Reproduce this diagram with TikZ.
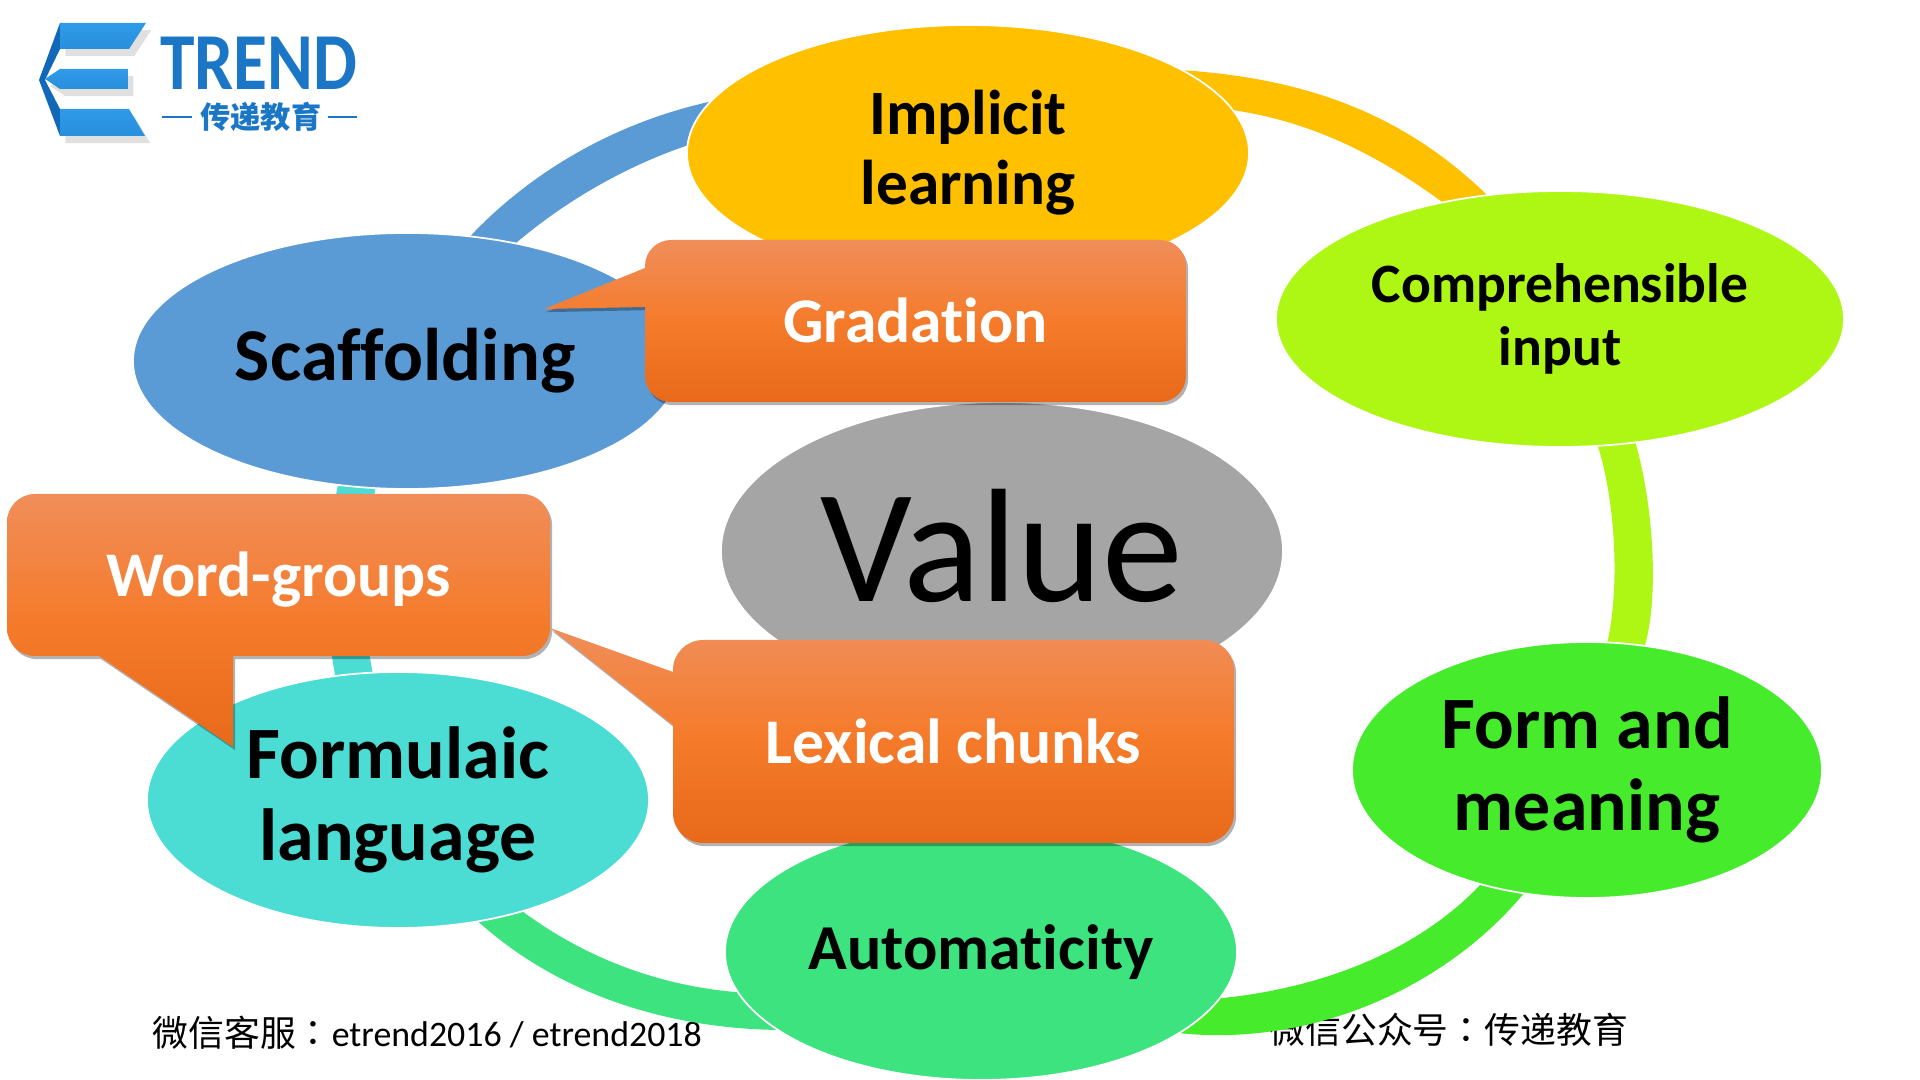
\documentclass[tikz,border=0pt]{standalone}
\usepackage{fontspec}
\setmainfont{Carlito}[Ligatures=NoCommon]
\newfontfamily\cjk{Noto Sans CJK SC}
\newfontfamily\cjktc{Noto Sans CJK TC}
\usetikzlibrary{calc,shapes.geometric,shadows}
\newcommand{\figuresize}{0.01cm}
\newcommand{\makecallout}[8]{
	\path[calloutfill] (#2,#3) [rounded corners=#8*\figuresize] rectangle (#4,#5) [sharp corners] #6;
	\node[callouttext] (#1) at ($(#2,#3)!0.5!(#4,#5)$) {#7};
}
\tikzset{
	ringnode/.style n args={3}{ellipse, draw=white, line width=0.5pt, inner sep=0pt, align=center, font=\bfseries\fontsize{#2}{#3}\selectfont, minimum height=256*\figuresize, minimum width=#1*\figuresize},
	calloutfill/.style={top color=orangetop, bottom color=orangebottom, middle color=orangemid, drop shadow={shadow xshift=0.6pt, shadow yshift=-0.9pt, opacity=0.3, fill=black}},
	callouttext/.style={text=white, text height=12.4pt, text depth=0pt, font=\bfseries\fontsize{18.1}{18.1}\selectfont},
	logoblue/.style={top color=logolight, bottom color=logolight!75!logodark, drop shadow={shadow xshift=1.5pt, shadow yshift=-2pt, opacity=0.12, fill=black}},
	logoside/.style={fill=logodark},
	logotext/.style={text=logodark!70!logolight, inner sep=0pt},
}
\definecolor{orangetop}{HTML}{F08E5A}
\definecolor{orangemid}{HTML}{F57B2B}
\definecolor{orangebottom}{HTML}{E8691A}
\definecolor{logolight}{HTML}{2F9BE8}
\definecolor{logodark}{HTML}{1268B8}
\definecolor{implicitcol}{HTML}{FFC000}
\definecolor{inputcol}{HTML}{AEF614}
\definecolor{formcol}{HTML}{46EC2B}
\definecolor{autocol}{HTML}{3CE37F}
\definecolor{formulaiccol}{HTML}{4BDCD3}
\definecolor{scaffoldcol}{HTML}{5B9BD5}
\definecolor{valuecol}{HTML}{A5A5A5}
\begin{document}
\begin{tikzpicture}[x=\figuresize,y=-\figuresize]
	\useasboundingbox (0,0) rectangle (1920,1080);

	% logo
	\fill[logoside] (39,80) -- (60,23) -- (60,49) -- (45,80) -- (60,109) -- (60,136) -- cycle;
	\path[logoblue] (60,23) -- (146,23) -- (129,49) -- (60,49) -- cycle;
	\path[logoblue] (45,79) -- (60,69) -- (128,69) -- (128,89) -- (60,89) -- cycle;
	\path[logoblue] (60,109) -- (129,109) -- (145,136) -- (60,136) -- cycle;
	\node[logotext, font=\bfseries\fontsize{23}{23}\selectfont] (trend) at (259,63) {\scalebox{0.86}[1]{TREND}};
	\node[logotext, font=\cjk\bfseries\fontsize{8.6}{8.6}\selectfont] (etrendcn) at (261,117) {传递教育};
	\coordinate (dashAa) at (162,117);
	\coordinate (dashAb) at (192,117);
	\coordinate (dashBa) at (328,117);
	\coordinate (dashBb) at (357,117);
	\draw[logodark!70!logolight, line width=0.5pt] (dashAa) -- (dashAb);
	\draw[logodark!70!logolight, line width=0.5pt] (dashBa) -- (dashBb);

	% footer
	\node[anchor=west, font=\fontsize{10.2}{10.2}\selectfont] (service) at (140,1033) {{\cjk 微信客服}{\cjktc ：}etrend2016 / etrend2018};
	\node[anchor=west, font=\cjk\fontsize{10.2}{10.2}\selectfont] (account) at (1257,1030) {微信公众号{\cjktc ：}传递教育};

	% ring
	\fill[implicitcol] (1180,70) .. controls (1300,78) and (1405,110) .. (1498,206) -- (1453,210) .. controls (1380,155) and (1310,120) .. (1225,109) -- cycle;
	\fill[inputcol] (1632,432) .. controls (1652,490) and (1662,600) .. (1642,655) -- (1605,652) .. controls (1622,590) and (1615,490) .. (1594,435) -- cycle;
	\fill[formcol] (1533,882) .. controls (1450,990) and (1305,1050) .. (1170,1032) -- (1212,999) .. controls (1320,990) and (1425,950) .. (1490,874) -- cycle;
	\fill[autocol] (470,914) .. controls (560,1000) and (680,1030) .. (785,1030) -- (748,993) .. controls (665,988) and (585,960) .. (514,905) -- cycle;
	\fill[formulaiccol] (339,480) .. controls (320,570) and (325,620) .. (336,680) -- (374,680) .. controls (362,620) and (360,570) .. (377,480) -- cycle;
	\fill[scaffoldcol] (718,100) .. controls (620,120) and (530,170) .. (463,244) -- (508,250) .. controls (570,195) and (640,160) .. (698,142) -- cycle;

	% ellipses
	\node[ringnode={562}{18}{19.9}, fill=implicitcol] (implicit) at (968,153) {Implicit\\learning};
	\node[ringnode={568}{15.8}{17.8}, fill=inputcol] (input) at (1560,319) {Comprehensible\\input};
	\node[ringnode={470}{21}{23.4}, fill=formcol] (form) at (1587,770) {Form and\\meaning};
	\node[ringnode={512}{18.2}{20}, fill=autocol] (auto) at (981,952) {Automaticity};
	\node[ringnode={502}{21}{23.4}, fill=formulaiccol] (formulaic) at (398,800) {Formulaic\\language};
	\node[ringnode={548}{21.2}{23.4}, fill=scaffoldcol] (scaffold) at (407,361) {\hspace{-1pt}Scaffolding};
	\node[ellipse, draw=white, line width=0.5pt, fill=valuecol, inner sep=0pt, minimum width=562*\figuresize, minimum height=298*\figuresize, font=\fontsize{46}{46}\selectfont] (value) at (1002,551) {\raisebox{3.4pt}{Value}};

	% callouts
	\makecallout{gradation}{645}{240}{1186}{402}{(645,268) -- (544,309) -- (645,307) -- cycle}{Gradation}{26}
	\makecallout{wordgroups}{7}{494}{550}{656}{(99,656) -- (233,747) -- (233,656) -- cycle}{Word-groups}{28}
	\makecallout{chunks}{673}{640}{1234}{843}{(673,672) -- (550,628) -- (673,725) -- cycle}{Lexical chunks}{30}
\end{tikzpicture}
\end{document}
